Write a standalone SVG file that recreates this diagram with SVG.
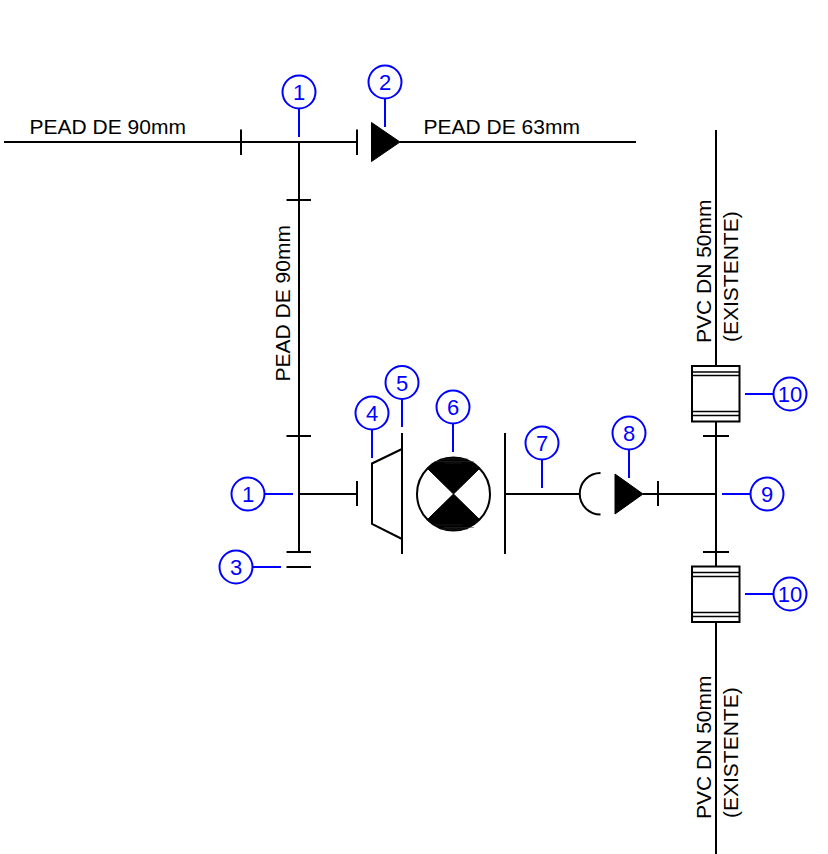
<svg xmlns="http://www.w3.org/2000/svg" width="828" height="854" viewBox="0 0 828 854">
<style>
.l{fill:none;stroke:#000;stroke-width:2}
.f{fill:#000;stroke:#000;stroke-width:1}
.b{fill:#fff;stroke:#00f;stroke-width:2}
.ld{fill:none;stroke:#00f;stroke-width:2}
.n{font:22px "Liberation Sans",Arial,sans-serif;fill:#00f;text-anchor:middle}
.t{font:21px "Liberation Sans",Arial,sans-serif;fill:#000}
.w{fill:#fff;stroke:#000;stroke-width:2}
.g{fill:none;stroke:#000;stroke-width:1.3}
.s{fill:none;stroke:#333;stroke-width:.5}
</style>
<rect width="828" height="854" fill="#fff"/>
<g id="connectors">
<path class="l" d="M4 142H357M400 142H636M299 142V552M299 494H357M505 494H580M643 494H716M716 130V366M716 421V566M716 622V854"/>
<path class="l" d="M241 129.500V155M357 129.500V155M286.500 200H311M286.500 436H311M286.500 552H311M286.500 567H311M357 481V506M658 481V506M703 436H729M703 552H729"/>
</g>
<g id="reducer"><path class="l" d="M402 449L372 463.500V524L402 539"/><path class="l" d="M402 433V554"/></g>
<g id="meter">
<circle class="l" cx="453.500" cy="494" r="36.500"/>
<path class="f" d="M453.500 494L427.500 468.500A36.500 36.500 0 0 1 479.500 468.500Z"/>
<path class="f" d="M453.500 494L427.500 519.500A36.500 36.500 0 0 0 479.500 519.500Z"/>
<path class="s" d="M440 459H468M434 461.500H474M444 463H462M434 525H462M444 527.500H474M440 529H468"/>
</g>
<g id="flange"><path class="l" d="M505 433V554"/></g>
<g id="cap"><path class="l" d="M600.500 473A20.750 20.750 0 0 0 600.500 514.500"/></g>
<g id="valve1"><path class="f" d="M371.500 122.500V161.500L400 142Z"/></g>
<g id="valve2"><path class="f" d="M615 474V514L643 494Z"/></g>
<g id="joint1"><rect class="w" x="692" y="366" width="47.500" height="55.500"/><path class="g" d="M692 372H739.500M692 375.500H739.500M692 411.500H739.500M692 415.500H739.500"/></g>
<g id="joint2"><rect class="w" x="692" y="566.500" width="47.500" height="55.500"/><path class="g" d="M692 572.500H739.500M692 576.500H739.500M692 612.500H739.500M692 616.500H739.500"/></g>
<g id="labels">
<text class="t" x="29.500" y="133.500">PEAD DE 90mm</text>
<text class="t" x="423.500" y="133.500">PEAD DE 63mm</text>
<text class="t" transform="translate(290 381.500) rotate(-90)">PEAD DE 90mm</text>
<text class="t" transform="translate(711 343) rotate(-90)">PVC DN 50mm</text>
<text class="t" transform="translate(738 342) rotate(-90)">(EXISTENTE)</text>
<text class="t" transform="translate(711 819) rotate(-90)">PVC DN 50mm</text>
<text class="t" transform="translate(738 818) rotate(-90)">(EXISTENTE)</text>
</g>
<g id="balloon-1a"><path class="ld" d="M299 108V137"/><circle class="b" cx="299" cy="92" r="16.500"/><text class="n" x="299" y="100">1</text></g>
<g id="balloon-2"><path class="ld" d="M385 98V127"/><circle class="b" cx="385" cy="82" r="16.500"/><text class="n" x="385" y="90">2</text></g>
<g id="balloon-1b"><path class="ld" d="M264 494H293"/><circle class="b" cx="248" cy="494" r="16.500"/><text class="n" x="248" y="502">1</text></g>
<g id="balloon-3"><path class="ld" d="M252 567H281"/><circle class="b" cx="236" cy="567" r="16.500"/><text class="n" x="236" y="575">3</text></g>
<g id="balloon-4"><path class="ld" d="M372 429V458"/><circle class="b" cx="372" cy="413" r="16.500"/><text class="n" x="372" y="421">4</text></g>
<g id="balloon-5"><path class="ld" d="M402 398V427"/><circle class="b" cx="402" cy="382.500" r="16.500"/><text class="n" x="402" y="390.500">5</text></g>
<g id="balloon-6"><path class="ld" d="M453 423V452"/><circle class="b" cx="453" cy="407" r="16.500"/><text class="n" x="453" y="415">6</text></g>
<g id="balloon-7"><path class="ld" d="M542 459V488"/><circle class="b" cx="542" cy="443" r="16.500"/><text class="n" x="542" y="451">7</text></g>
<g id="balloon-8"><path class="ld" d="M629 449V478"/><circle class="b" cx="629" cy="433" r="16.500"/><text class="n" x="629" y="441">8</text></g>
<g id="balloon-9"><path class="ld" d="M722 494H751"/><circle class="b" cx="767" cy="494" r="16.500"/><text class="n" x="767" y="502">9</text></g>
<g id="balloon-10a"><path class="ld" d="M745 394H774"/><circle class="b" cx="790" cy="394" r="16.500"/><text class="n" x="790" y="402">10</text></g>
<g id="balloon-10b"><path class="ld" d="M745 594H774"/><circle class="b" cx="790" cy="594" r="16.500"/><text class="n" x="790" y="602">10</text></g>
</svg>
